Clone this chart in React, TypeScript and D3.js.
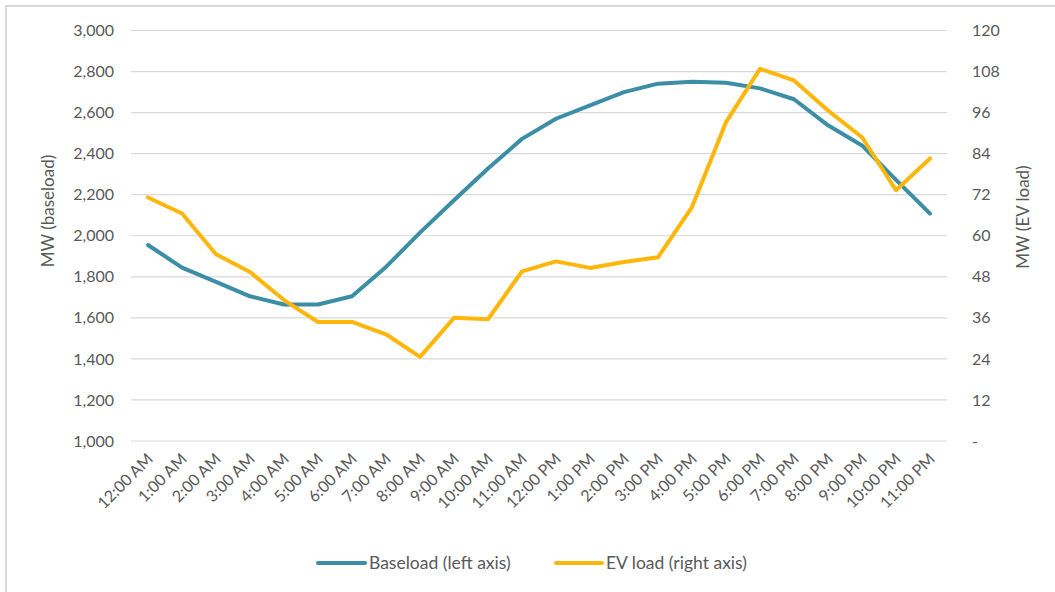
import React from "react";
import * as d3 from "d3";

const categories = ["12:00 AM","1:00 AM","2:00 AM","3:00 AM","4:00 AM","5:00 AM","6:00 AM","7:00 AM","8:00 AM","9:00 AM","10:00 AM","11:00 AM","12:00 PM","1:00 PM","2:00 PM","3:00 PM","4:00 PM","5:00 PM","6:00 PM","7:00 PM","8:00 PM","9:00 PM","10:00 PM","11:00 PM"];
const baseload = [1955,1845,1775,1705,1665,1665,1705,1848,2015,2173,2328,2472,2570,2635,2700,2741,2750,2745,2718,2665,2538,2440,2272,2108];
const evLoad = [71.2,66.5,54.6,49.4,41.2,34.8,34.8,31.2,24.6,36.0,35.6,49.6,52.5,50.6,52.3,53.7,68.4,93.2,108.8,105.4,96.6,88.8,73.3,82.6];
const leftTicks = [1000,1200,1400,1600,1800,2000,2200,2400,2600,2800,3000];
const rightTicks = [0,12,24,36,48,60,72,84,96,108,120];

const W = 1055, H = 592;
const plot = { left: 131, right: 947, top: 30.5, bottom: 441 };
const TEAL = "#3B8EA5";
const GOLD = "#FFB60A";
const TEXT = "#595959";
const FONT = "Lato, 'Open Sans', sans-serif";

export default function App() {
  const x = d3.scaleBand<string>().domain(categories).range([plot.left, plot.right]);
  const cx = (c: string) => (x(c) as number) + x.bandwidth() / 2;
  const yL = d3.scaleLinear().domain([1000, 3000]).range([plot.bottom, plot.top]);
  const yR = d3.scaleLinear().domain([0, 120]).range([plot.bottom, plot.top]);
  const lineL = d3.line<number>().x((_, i) => cx(categories[i])).y((d) => yL(d));
  const lineR = d3.line<number>().x((_, i) => cx(categories[i])).y((d) => yR(d));
  const fmt = d3.format(",");

  return (
    <svg width={W} height={H} style={{ position: "absolute", left: 0, top: 0 }} fontFamily={FONT}>
      <rect x={0} y={0} width={W} height={H} fill="#fff" />
      <rect x={6} y={6} width={W + 20} height={H + 20} fill="none" stroke="#d9d9d9" strokeWidth={2} />
      {leftTicks.map((t) => (
        <line key={t} x1={plot.left} x2={plot.right} y1={yL(t)} y2={yL(t)} stroke="#d9d9d9" strokeWidth={1.2} />
      ))}
      {leftTicks.map((t) => (
        <text key={"l" + t} x={114} y={yL(t)} dy="0.35em" textAnchor="end" fontSize={16} fill={TEXT}>{fmt(t)}</text>
      ))}
      {rightTicks.map((t) => (
        <text key={"r" + t} x={972} y={yR(t)} dy="0.35em" textAnchor="start" fontSize={16} fill={TEXT}>{t === 0 ? "-" : t}</text>
      ))}
      <text transform={`translate(54,211) rotate(-90)`} textAnchor="middle" fontSize={17} fill={TEXT}>MW (baseload)</text>
      <text transform={`translate(1029,217) rotate(-90)`} textAnchor="middle" fontSize={17} fill={TEXT}>MW (EV load)</text>
      {categories.map((c) => (
        <text key={c} transform={`translate(${cx(c) + 6},${460}) rotate(-45)`} textAnchor="end" fontSize={16} fill={TEXT}>{c}</text>
      ))}
      <path d={lineL(baseload) || ""} fill="none" stroke={TEAL} strokeWidth={4} strokeLinejoin="round" strokeLinecap="round" />
      <path d={lineR(evLoad) || ""} fill="none" stroke={GOLD} strokeWidth={4} strokeLinejoin="round" strokeLinecap="round" />
      <line x1={318} x2={365} y1={563} y2={563} stroke={TEAL} strokeWidth={4} strokeLinecap="round" />
      <text x={369} y={563} dy="0.35em" fontSize={17.5} fill={TEXT}>Baseload (left axis)</text>
      <line x1={556} x2={602} y1={563} y2={563} stroke={GOLD} strokeWidth={4} strokeLinecap="round" />
      <text x={606} y={563} dy="0.35em" fontSize={17.5} fill={TEXT}>EV load (right axis)</text>
    </svg>
  );
}
